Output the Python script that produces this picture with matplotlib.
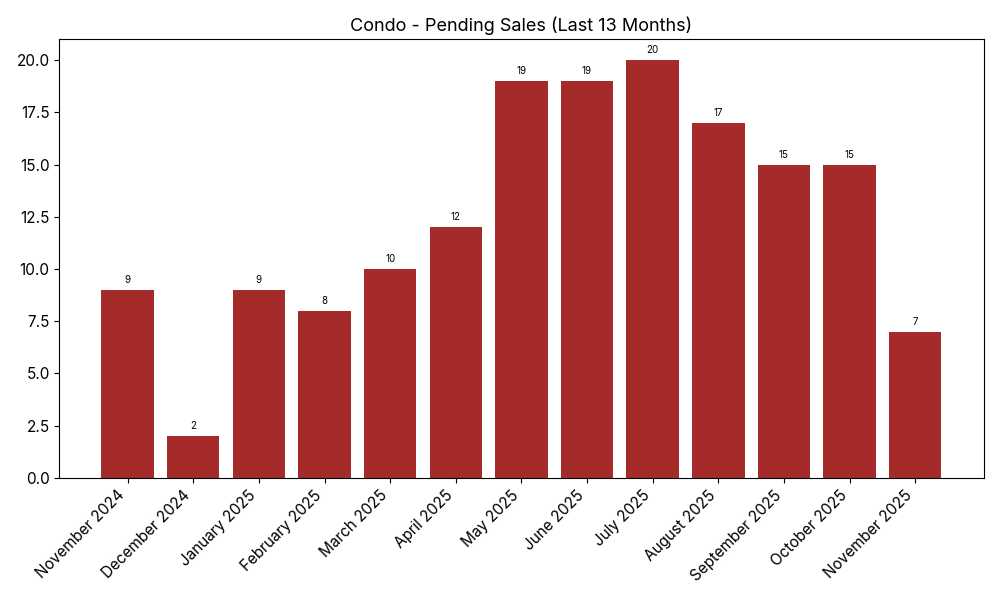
import matplotlib.pyplot as plt

plt.rcParams['font.family'] = ['Inter', 'DejaVu Sans']
plt.rcParams['font.size'] = 11

months = ["November 2024", "December 2024", "January 2025", "February 2025",
          "March 2025", "April 2025", "May 2025", "June 2025", "July 2025",
          "August 2025", "September 2025", "October 2025", "November 2025"]
pending = [9, 2, 9, 8, 10, 12, 19, 19, 20, 17, 15, 15, 7]

fig, ax = plt.subplots(figsize=(10, 6), dpi=100)
bars = ax.bar(months, pending, color='brown')

# Wert über jedem Balken
for b, v in zip(bars, pending):
    ax.annotate(f'{v}', (b.get_x() + b.get_width() / 2, b.get_height()),
                textcoords="offset points", xytext=(0, 5), ha='center', fontsize=7)

ax.set_title("Condo - Pending Sales (Last 13 Months)", fontsize=13)
plt.xticks(rotation=45, ha='right')
plt.tight_layout()
plt.savefig("out.png")
